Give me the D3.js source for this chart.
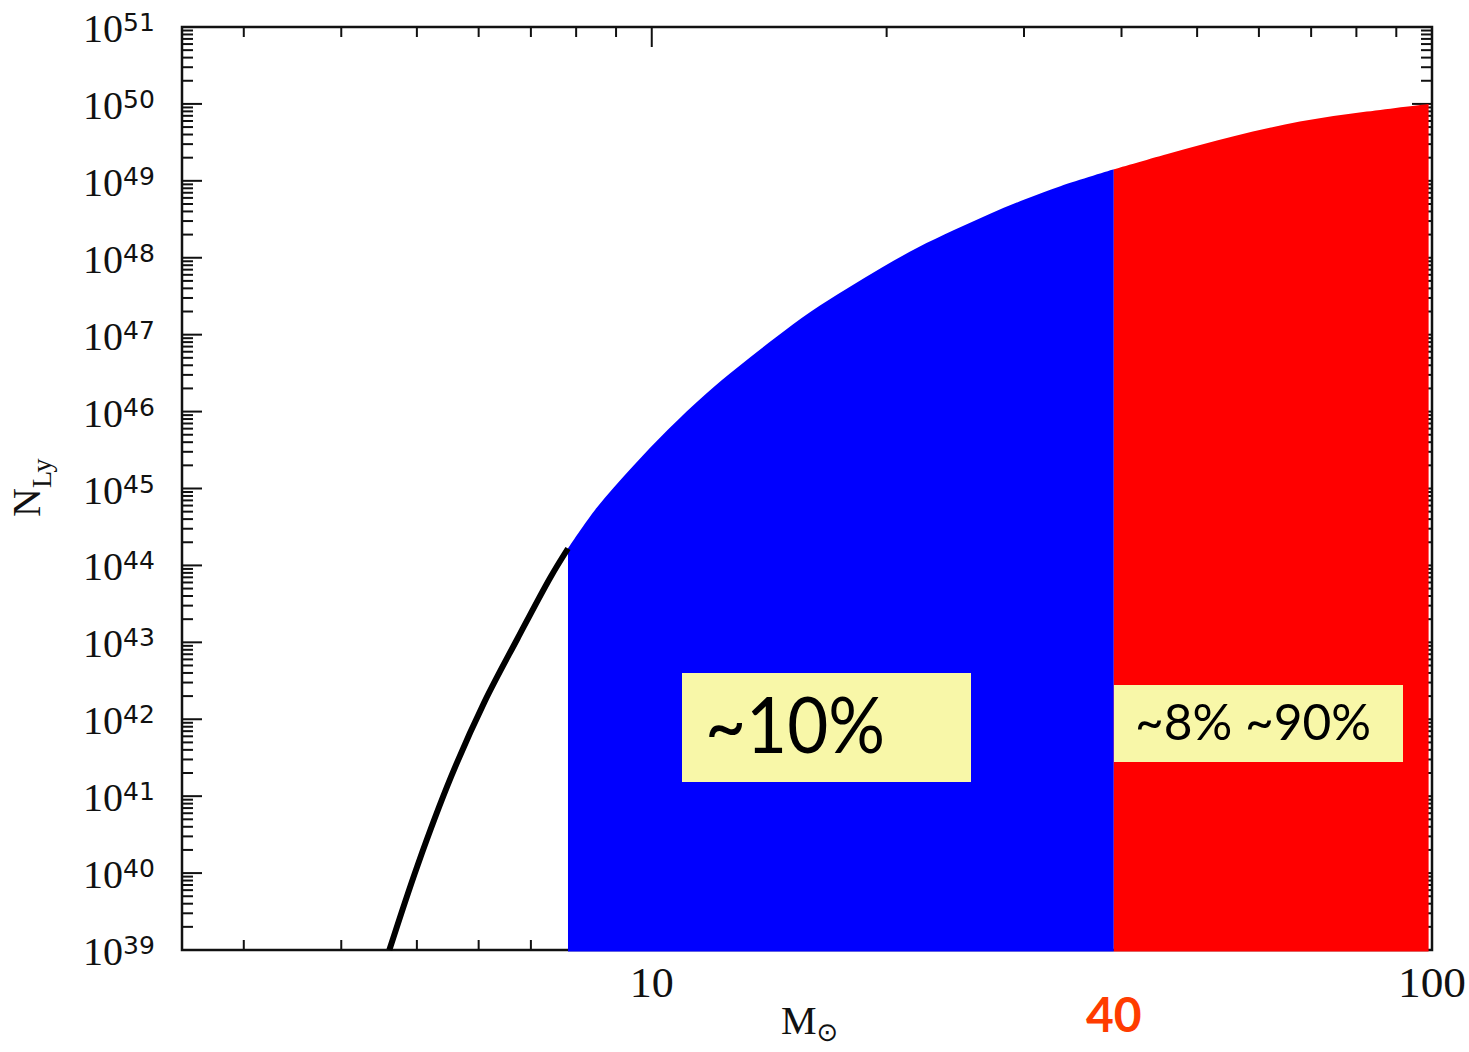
<!DOCTYPE html>
<html>
<head>
<meta charset="utf-8">
<script src="https://cdn.jsdelivr.net/npm/d3@7"></script>
<style>
  body { margin: 0; background: #fff; }
  svg { display: block; }
</style>
</head>
<body>
<div id="chart"></div>
<script>
// stellar mass (solar masses) vs log10 of ionising photon rate
const massValues = [4.61, 5.01, 5.53, 6.10, 6.73, 7.42, 7.81, 8.50, 9.44, 10.5, 11.7, 12.9, 14.4,
  16.0, 17.8, 19.7, 21.9, 24.4, 27.1, 30.1, 33.4, 39.1, 45.8, 55.7, 67.7, 82.5, 99];
const logNValues = [39.0, 40.1, 41.25, 42.22, 43.05, 43.85, 44.22, 44.75, 45.28, 45.77, 46.22, 46.58, 46.96,
  47.3, 47.6, 47.87, 48.13, 48.36, 48.57, 48.76, 48.93, 49.15, 49.35, 49.58, 49.77, 49.9, 50.0];

const blueStart = 7.81;
const redStart = 39.1;
const yExponents = d3.range(39, 52);
const xTickLabels = [10, 100];
const boxTexts = ['~10%', '~8% ~90%'];
const cutLabel = '40';

const width = 1469;
const height = 1052;

const svg = d3.select('#chart').append('svg')
  .attr('width', width)
  .attr('height', height);

const x = d3.scaleLog().domain([2.5, 100]).range([182, 1432]);
const y = d3.scaleLog().domain([1e39, 1e51]).range([950, 27]);

const pts = massValues.map((m, i) => ({ m: m, n: Math.pow(10, logNValues[i]) }));

// frame
const [x0, x1] = x.range();
const [yb, yt] = y.range();
svg.append('rect')
  .attr('x', x0).attr('y', yt)
  .attr('width', x1 - x0).attr('height', yb - yt)
  .attr('fill', 'none').attr('stroke', '#111').attr('stroke-width', 2.5);

// x ticks (top + bottom, pointing inward)
const xTicks = [];
[1, 10].forEach(d => {
  for (let k = 1; k <= 9; k++) {
    const v = k * d;
    if (v >= 2.5 && v <= 100) xTicks.push({ v: v, major: k === 1 });
  }
});
xTicks.push({ v: 100, major: true });

const axisG = svg.append('g').attr('stroke', '#111').attr('stroke-width', 2);
axisG.selectAll('line.xt')
  .data(xTicks).join('line')
  .attr('class', 'xt')
  .attr('x1', d => x(d.v)).attr('x2', d => x(d.v))
  .attr('y1', yt).attr('y2', d => yt + (d.major ? 20 : 10));
axisG.selectAll('line.xb')
  .data(xTicks).join('line')
  .attr('class', 'xb')
  .attr('x1', d => x(d.v)).attr('x2', d => x(d.v))
  .attr('y1', yb).attr('y2', d => yb - (d.major ? 20 : 10));

// y ticks (left + right)
const yTicks = [];
yExponents.forEach(e => {
  for (let k = 1; k <= 9; k++) {
    const v = k * Math.pow(10, e);
    if (v <= 1e51 * 1.0001) yTicks.push({ v: v, major: k === 1 });
  }
});
axisG.selectAll('line.yl')
  .data(yTicks).join('line')
  .attr('class', 'yl')
  .attr('y1', d => y(d.v)).attr('y2', d => y(d.v))
  .attr('x1', x0).attr('x2', d => x0 + (d.major ? 20 : 11));
axisG.selectAll('line.yr')
  .data(yTicks).join('line')
  .attr('class', 'yr')
  .attr('y1', d => y(d.v)).attr('y2', d => y(d.v))
  .attr('x1', x1).attr('x2', d => x1 - (d.major ? 20 : 11));

// filled regions under the curve
const area = d3.area()
  .x(d => x(d.m))
  .y0(yb + 1.5)
  .y1(d => y(d.n))
  .curve(d3.curveCatmullRom.alpha(0.5));

svg.append('path')
  .datum(pts.filter(d => d.m >= blueStart && d.m <= redStart))
  .attr('d', area)
  .attr('fill', '#0000ff');

svg.append('path')
  .datum(pts.filter(d => d.m >= redStart))
  .attr('d', area)
  .attr('fill', '#ff0000');

// black curve below the blue region
const line = d3.line()
  .x(d => x(d.m))
  .y(d => y(d.n))
  .curve(d3.curveCatmullRom.alpha(0.5));

svg.append('path')
  .datum(pts.filter(d => d.m <= blueStart))
  .attr('d', line)
  .attr('fill', 'none')
  .attr('stroke', '#000')
  .attr('stroke-width', 6);

// y tick labels 10^n
const yLab = svg.append('g').attr('fill', '#111')
  .selectAll('text')
  .data(yExponents).join('text')
  .attr('x', 83)
  .attr('y', e => y(Math.pow(10, e)) + 15);
yLab.append('tspan')
  .attr('font-family', 'Liberation Serif, serif')
  .attr('font-size', 40)
  .text('10');
yLab.append('tspan')
  .attr('dy', -11)
  .attr('font-family', 'DejaVu Sans, sans-serif')
  .attr('font-size', 25)
  .text(e => e);

// x tick labels
const xLabLen = { 10: 44, 100: 68 };
svg.selectAll('text.xl')
  .data(xTickLabels).join('text')
  .attr('class', 'xl')
  .attr('x', d => x(d) - xLabLen[d] / 2)
  .attr('y', 997)
  .attr('font-family', 'Liberation Serif, serif')
  .attr('font-size', 42)
  .attr('fill', '#111')
  .attr('textLength', d => xLabLen[d])
  .attr('lengthAdjust', 'spacingAndGlyphs')
  .text(d => d);

// axis titles
const xt = svg.append('text')
  .attr('x', 781).attr('y', 1034)
  .attr('font-family', 'Liberation Serif, serif')
  .attr('font-size', 40)
  .attr('fill', '#111');
xt.append('tspan').text('M');
xt.append('tspan').attr('dy', 7).attr('font-size', 26)
  .attr('font-family', 'DejaVu Sans, sans-serif').text('⊙');

const yt2 = svg.append('text')
  .attr('transform', 'translate(40,517) rotate(-90)')
  .attr('font-family', 'Liberation Serif, serif')
  .attr('font-size', 40)
  .attr('fill', '#111');
yt2.append('tspan').text('N');
yt2.append('tspan').attr('dy', 11).attr('font-size', 28).text('Ly');

// annotation boxes
const boxes = [
  { text: boxTexts[0], x: 682, y: 673, w: 289, h: 109, size: 78, tx: 705, ty: 753, tl: 180 },
  { text: boxTexts[1], x: 1114, y: 685, w: 289, h: 77, size: 50, tx: 1135, ty: 740, tl: 236 }
];
const bg = svg.selectAll('g.box').data(boxes).join('g').attr('class', 'box');
bg.append('rect')
  .attr('x', d => d.x).attr('y', d => d.y)
  .attr('width', d => d.w).attr('height', d => d.h)
  .attr('fill', '#f8f7a8');
bg.append('text')
  .attr('x', d => d.tx).attr('y', d => d.ty)
  .attr('font-family', '"Comic Sans MS", Lato, sans-serif')
  .attr('font-size', d => d.size)
  .attr('textLength', d => d.tl)
  .attr('lengthAdjust', 'spacingAndGlyphs')
  .attr('fill', '#000')
  .text(d => d.text);

// mass cut label
svg.append('text')
  .attr('x', x(redStart)).attr('y', 1032)
  .attr('text-anchor', 'middle')
  .attr('font-family', '"Comic Sans MS", Lato, sans-serif')
  .attr('font-weight', 'bold')
  .attr('font-size', 48)
  .attr('fill', '#ff3c00')
  .text(cutLabel);
</script>
</body>
</html>
